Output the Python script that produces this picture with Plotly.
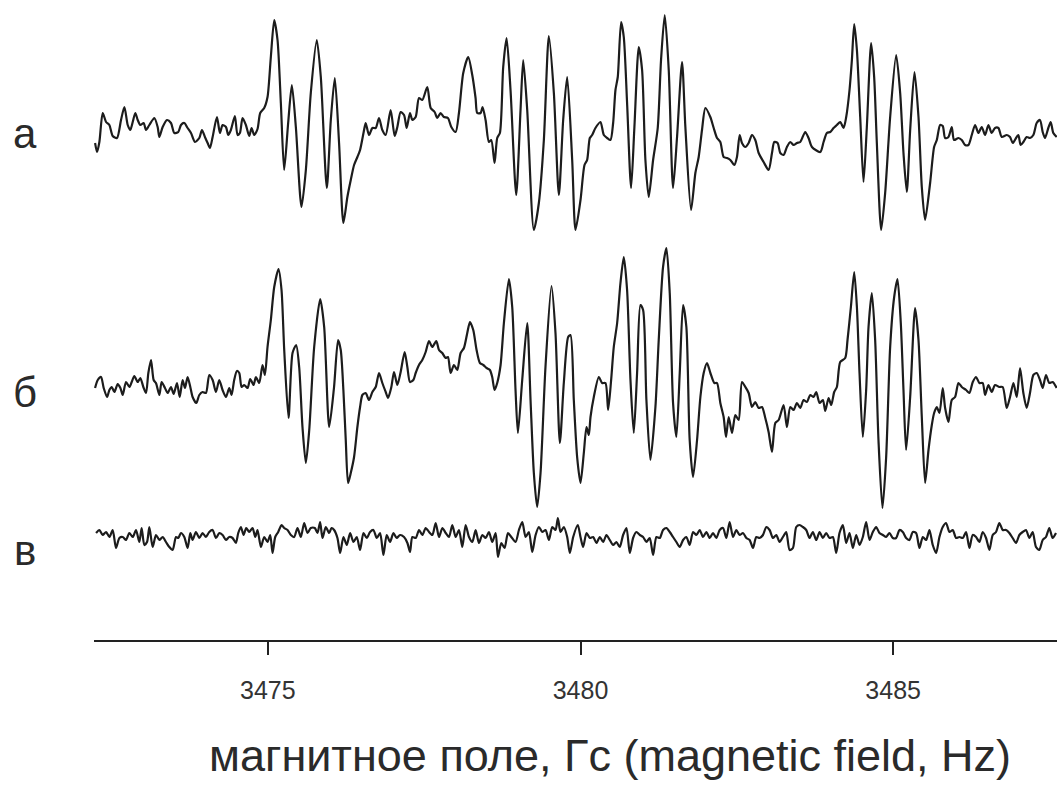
import plotly.graph_objects as go

# ---- data: EPR spectra (magnetic field in G, signal amplitude in arbitrary units) ----
a_field = [3472.237, 3472.269, 3472.306, 3472.359, 3472.413, 3472.466, 3472.519, 3472.588, 3472.652, 3472.706,
           3472.759, 3472.801, 3472.839, 3472.881, 3472.919, 3472.961, 3473.014, 3473.052, 3473.105, 3473.185,
           3473.238, 3473.265, 3473.318, 3473.387, 3473.451, 3473.504, 3473.568, 3473.611, 3473.664, 3473.717,
           3473.771, 3473.834, 3473.904, 3473.946, 3473.994, 3474.037, 3474.074, 3474.117, 3474.186, 3474.234,
           3474.276, 3474.330, 3474.367, 3474.409, 3474.473, 3474.516, 3474.553, 3474.596, 3474.649, 3474.702,
           3474.740, 3474.782, 3474.835, 3474.878, 3474.942, 3474.995, 3475.048, 3475.102, 3475.155, 3475.208,
           3475.261, 3475.325, 3475.384, 3475.448, 3475.538, 3475.608, 3475.687, 3475.783, 3475.847, 3475.943,
           3476.007, 3476.071,
           3476.139, 3476.208, 3476.272, 3476.326, 3476.379, 3476.432, 3476.475, 3476.539, 3476.565, 3476.618,
           3476.672, 3476.725, 3476.778, 3476.831, 3476.885, 3476.964, 3477.028, 3477.071, 3477.124, 3477.178,
           3477.220, 3477.273, 3477.311, 3477.364, 3477.417, 3477.470, 3477.550, 3477.604, 3477.667, 3477.710,
           3477.763, 3477.816, 3477.880, 3477.934, 3478.003, 3478.056, 3478.125, 3478.205, 3478.269, 3478.322,
           3478.349, 3478.402, 3478.434, 3478.482, 3478.535, 3478.573, 3478.626, 3478.668, 3478.711, 3478.764,
           3478.818, 3478.881, 3478.972, 3479.041, 3479.084, 3479.148, 3479.254, 3479.334, 3479.414, 3479.494,
           3479.574, 3479.654, 3479.723, 3479.787, 3479.867,
           3479.920, 3480.000, 3480.064, 3480.106, 3480.149, 3480.186, 3480.239, 3480.319, 3480.373, 3480.426,
           3480.479, 3480.522, 3480.559, 3480.596, 3480.649, 3480.692, 3480.745, 3480.809, 3480.862, 3480.932,
           3480.985, 3481.038, 3481.091, 3481.161, 3481.235, 3481.288, 3481.347, 3481.411, 3481.480, 3481.544,
           3481.624, 3481.677, 3481.768, 3481.837, 3481.890, 3481.943, 3481.997, 3482.076, 3482.130, 3482.183,
           3482.236, 3482.289, 3482.343, 3482.396, 3482.460, 3482.502, 3482.545, 3482.582, 3482.636, 3482.689,
           3482.742, 3482.795, 3482.849, 3482.928, 3483.008, 3483.062, 3483.099, 3483.152, 3483.195, 3483.248,
           3483.301, 3483.354, 3483.408, 3483.461, 3483.514, 3483.594, 3483.647, 3483.701,
           3483.834, 3483.887, 3483.940, 3483.994, 3484.047, 3484.100, 3484.153, 3484.207, 3484.249, 3484.302,
           3484.340, 3484.377, 3484.420, 3484.473, 3484.526, 3484.579, 3484.648, 3484.696, 3484.739, 3484.808,
           3484.872, 3484.952, 3485.048, 3485.112, 3485.165, 3485.218, 3485.272, 3485.341, 3485.405, 3485.458,
           3485.511, 3485.591, 3485.655, 3485.698, 3485.751, 3485.793, 3485.831, 3485.884, 3485.937, 3485.974,
           3486.044, 3486.097, 3486.150, 3486.203, 3486.257, 3486.310, 3486.363, 3486.416, 3486.470, 3486.523,
           3486.576, 3486.629, 3486.683, 3486.736, 3486.816, 3486.869, 3486.912, 3486.965, 3487.002, 3487.039,
           3487.082, 3487.135, 3487.188, 3487.242, 3487.295, 3487.348, 3487.391, 3487.428, 3487.481, 3487.519,
           3487.561, 3487.615]
a_amp = [-13, -22, -12, 17, 8, 5, -6, -8, 10, 23,
         5, 0, 8, 17, 10, 5, 7, 0, 5, 12,
         3, -7, 3, 10, 7, -3, -2, 5, 7, 2,
         -3, -12, -8, 0, -7, -13, -18, -7, 13, -3,
         5, 3, -5, 0, 14, -5, -3, 12, 5, -6,
         2, -5, 1, 17, 22, 33, 73, 110, 90, 27,
         -40, 7, 45, 3, -77, -40, 37, 90, 53, -58,
         10, 52,
         -13, -93, -67, -50, -35, -27, -20, 0, 7, -5,
         2, 2, 12, 0, -5, 20, -6, 3, 18, 15,
         2, 17, 10, 13, 32, 30, 43, 22, 18, 12,
         17, 13, 12, 3, -2, 17, 57, 73, 55, 32,
         17, 17, 23, 10, -12, -10, -33, -8, -3, 63,
         92, 40, -65, 20, 70, 20, -100, -73, -10, 94,
         37, -65, 10, 53, -30,
         -100, -70, -35, -30, -8, -5, 2, 8, -5, -8,
         -10, 7, 40, 53, 108, 93, 27, -58, 3, 83,
         60, -30, -67, -30, 2, 70, 115, 60, -58, -7,
         68, 3, -80, -43, -27, 0, 22, 13, 2, -8,
         -12, -27, -28, -30, -35, -27, -5, -13, -17, -13,
         -5, -10, -23, -32, -40, -23, -12, -13, -23, -25,
         -17, -12, -15, -13, -12, -2, -8, -17,
         -22, -12, -3, -2, 2, 5, 8, 2, 13, 40,
         70, 106, 80, 13, -52, 3, 87, 53, -13, -100,
         -63, 13, 75, 37, -23, -62, 0, 58, 13, -57,
         -90, -53, -17, -10, 5, 4, -8, -7, 3, -10,
         -8, -10, -15, -15, -5, 5, -3, 3, -5, 5,
         -3, 2, 2, -7, -5, -7, -13, -8, -5, -15,
         -12, -7, -8, -5, 7, 10, -2, -8, 2, 8,
         -3, -7]

b_field = [3472.237, 3472.280, 3472.333, 3472.375, 3472.429, 3472.466, 3472.503, 3472.546, 3472.599, 3472.642,
           3472.679, 3472.732, 3472.786, 3472.823, 3472.865, 3472.919, 3472.961, 3473.009, 3473.052, 3473.089,
           3473.132, 3473.174, 3473.211, 3473.265, 3473.302, 3473.355, 3473.398, 3473.451, 3473.494, 3473.547,
           3473.590, 3473.637, 3473.675, 3473.717, 3473.760, 3473.797, 3473.856, 3473.904, 3473.957, 3474.010,
           3474.063, 3474.117, 3474.170, 3474.223, 3474.276, 3474.330, 3474.383, 3474.420, 3474.462, 3474.505,
           3474.543, 3474.580, 3474.622, 3474.676, 3474.718, 3474.772, 3474.809, 3474.862, 3474.915, 3474.953,
           3474.995, 3475.048, 3475.102, 3475.171, 3475.219, 3475.262, 3475.331, 3475.395, 3475.453, 3475.501,
           3475.554, 3475.608, 3475.662, 3475.741, 3475.837, 3475.901, 3475.981,
           3476.059, 3476.123, 3476.166, 3476.208, 3476.246, 3476.283, 3476.326, 3476.379, 3476.432, 3476.475,
           3476.512, 3476.565, 3476.618, 3476.672, 3476.725, 3476.778, 3476.831, 3476.885, 3476.922, 3476.975,
           3477.018, 3477.071, 3477.124, 3477.188, 3477.231, 3477.273, 3477.327, 3477.364, 3477.417, 3477.470,
           3477.524, 3477.577, 3477.630, 3477.694, 3477.737, 3477.790, 3477.843, 3477.880, 3477.923, 3477.976,
           3478.029, 3478.083, 3478.136, 3478.189, 3478.232, 3478.285, 3478.338, 3478.391, 3478.445, 3478.498,
           3478.551, 3478.588, 3478.626, 3478.668, 3478.722, 3478.775, 3478.855, 3478.908, 3478.961, 3478.999,
           3479.068, 3479.148, 3479.201, 3479.254, 3479.307, 3479.361, 3479.440, 3479.536, 3479.600, 3479.670,
           3479.733, 3479.803, 3479.840,
           3479.893, 3479.946, 3480.000, 3480.053, 3480.096, 3480.133, 3480.160, 3480.213, 3480.293, 3480.346,
           3480.399, 3480.442, 3480.490, 3480.532, 3480.586, 3480.639, 3480.692, 3480.745, 3480.799, 3480.852,
           3480.905, 3480.958, 3481.001, 3481.054, 3481.118, 3481.198, 3481.251, 3481.320, 3481.374, 3481.427,
           3481.480, 3481.533, 3481.587, 3481.640, 3481.693, 3481.746, 3481.800, 3481.864, 3481.917, 3481.970,
           3482.023, 3482.077, 3482.140, 3482.183, 3482.236, 3482.289, 3482.327, 3482.370, 3482.423, 3482.476,
           3482.529, 3482.582, 3482.636, 3482.689, 3482.742, 3482.795, 3482.849, 3482.902, 3482.955, 3483.008,
           3483.062, 3483.115, 3483.168, 3483.248, 3483.301, 3483.355, 3483.408, 3483.461, 3483.514, 3483.567,
           3483.621,
           3483.674, 3483.727, 3483.770, 3483.823, 3483.876, 3483.914, 3483.967, 3484.010, 3484.057, 3484.100,
           3484.153, 3484.233, 3484.270, 3484.324, 3484.377, 3484.420, 3484.462, 3484.515, 3484.568, 3484.606,
           3484.659, 3484.712, 3484.765, 3484.829, 3484.888, 3484.952, 3485.016, 3485.069, 3485.122, 3485.165,
           3485.207, 3485.272, 3485.351, 3485.405, 3485.458, 3485.511, 3485.565, 3485.618, 3485.655, 3485.698,
           3485.740, 3485.793, 3485.831, 3485.884, 3485.937, 3485.990, 3486.044, 3486.097, 3486.166, 3486.219,
           3486.273, 3486.326, 3486.379, 3486.432, 3486.470, 3486.523, 3486.576, 3486.629, 3486.698, 3486.752,
           3486.816, 3486.869, 3486.923, 3486.976, 3487.029, 3487.082, 3487.135, 3487.188, 3487.242, 3487.295,
           3487.348, 3487.391, 3487.444, 3487.497, 3487.551, 3487.615]
b_amp = [-3, 5, 8, -3, -12, -5, -2, -7, 1, -3,
         -10, 3, -2, 3, 9, 3, 7, -2, -8, 12,
         25, 5, 2, -10, 3, -3, -8, -2, -9, 2,
         -12, 5, -3, 8, -2, -12, -18, -10, -7, -8,
         10, 5, -7, 5, -5, -12, -3, -10, 5, 14,
         12, -2, 0, -3, 6, 0, 8, 2, 20, 10,
         38, 65, 98, 116, 95, 35, -33, 32, 40, 18,
         -42, -78, -45, 38, 86, 58, -42,
         -2, 45, 35, -5, -55, -98, -88, -72, -42, -22,
         -10, -8, -15, -7, -2, 12, 2, -7, -13, -2,
         13, 0, 13, 33, 18, 3, 5, 12, 20, 25,
         33, 44, 38, 44, 35, 32, 27, 28, 12, 20,
         15, 32, 37, 52, 63, 55, 35, 22, 20, 17,
         15, 8, -5, 2, 20, 62, 106, 78, -5, -48,
         5, 62, -15, -88, -122, -88, 18, 99, 52, -58,
         2, 48, 50,
         -15, -72, -98, -68, -42, -50, -32, -12, 8, 2,
         2, -25, 5, 38, 62, 102, 128, 95, 5, -48,
         12, 80, 75, -15, -75, -22, 45, 118, 137, 92,
         -18, -52, 12, 80, 58, -55, -92, -55, -12, 12,
         22, 12, 2, 2, -18, -32, -52, -32, -48, -30,
         -35, 3, -2, -8, -22, -17, -23, -22, -33, -47,
         -67, -38, -35, -20, -42, -22, -25, -18, -23, -15,
         -17,
         -10, -12, -7, -18, -15, -26, -13, -20, -7, -2,
         23, 27, 45, 78, 113, 78, 12, -52, -5, 58,
         92, 45, -55, -123, -72, 38, 88, 106, 62, -5,
         -65, -12, 77, 45, -32, -98, -65, -40, -28, -22,
         -28, -3, -23, -37, -15, -12, 2, -2, -5, -8,
         3, 8, 2, 2, -10, 0, -7, 0, -2, -2,
         -23, -12, 2, -12, 17, -8, -23, -8, 10, 12,
         5, -3, 10, 2, 3, -3]

v_field = [3472.253, 3472.306, 3472.359, 3472.413, 3472.466, 3472.519, 3472.572, 3472.626, 3472.679, 3472.732,
           3472.785, 3472.839, 3472.892, 3472.945, 3472.982, 3473.025, 3473.068, 3473.105, 3473.158, 3473.211,
           3473.265, 3473.318, 3473.371, 3473.424, 3473.478, 3473.531, 3473.568, 3473.611, 3473.664, 3473.717,
           3473.760, 3473.797, 3473.850, 3473.904, 3473.957, 3474.010, 3474.063, 3474.117, 3474.170, 3474.223,
           3474.276, 3474.330, 3474.383, 3474.436, 3474.489, 3474.527, 3474.569, 3474.612, 3474.654, 3474.702,
           3474.756, 3474.798, 3474.835, 3474.889, 3474.942, 3474.995, 3475.038, 3475.075, 3475.118, 3475.166,
           3475.219, 3475.261, 3475.315, 3475.368, 3475.421, 3475.474, 3475.528, 3475.581, 3475.634, 3475.687,
           3475.751, 3475.794, 3475.836, 3475.874, 3475.927, 3475.980, 3476.018, 3476.060, 3476.113, 3476.156,
           3476.209, 3476.262, 3476.316, 3476.369, 3476.422, 3476.475, 3476.529, 3476.582, 3476.635, 3476.688,
           3476.742, 3476.795, 3476.848, 3476.901, 3476.955, 3477.008, 3477.061, 3477.114, 3477.178, 3477.232,
           3477.274, 3477.311, 3477.365, 3477.418, 3477.471, 3477.524, 3477.578, 3477.631, 3477.684, 3477.737,
           3477.791, 3477.844, 3477.897, 3477.950, 3478.004, 3478.057, 3478.110, 3478.163, 3478.217, 3478.270,
           3478.323, 3478.376, 3478.430, 3478.483, 3478.536, 3478.589, 3478.643, 3478.680, 3478.733, 3478.786,
           3478.840, 3478.893, 3478.962, 3479.015, 3479.069, 3479.122, 3479.175, 3479.228, 3479.282, 3479.335,
           3479.388, 3479.441, 3479.495, 3479.548, 3479.601, 3479.638, 3479.681, 3479.734, 3479.787, 3479.830,
           3479.883,
           3479.957, 3480.000, 3480.042, 3480.096, 3480.149, 3480.202, 3480.255, 3480.309, 3480.362, 3480.415,
           3480.468, 3480.522, 3480.575, 3480.628, 3480.681, 3480.735, 3480.788, 3480.841, 3480.894, 3480.948,
           3481.001, 3481.054, 3481.107, 3481.161, 3481.214, 3481.267, 3481.320, 3481.374, 3481.427, 3481.480,
           3481.533, 3481.587, 3481.640, 3481.693, 3481.746, 3481.800, 3481.853, 3481.906, 3481.959, 3482.013,
           3482.066, 3482.119, 3482.172, 3482.226, 3482.279, 3482.332, 3482.385, 3482.439, 3482.492, 3482.545,
           3482.598, 3482.652, 3482.705, 3482.758, 3482.811, 3482.864, 3482.918, 3482.971, 3483.024, 3483.077,
           3483.131, 3483.184, 3483.237, 3483.290, 3483.344, 3483.397, 3483.450, 3483.503, 3483.557, 3483.610,
           3483.663, 3483.716, 3483.770, 3483.823, 3483.876, 3483.929, 3483.983, 3484.036, 3484.089, 3484.142,
           3484.196, 3484.249, 3484.302, 3484.355, 3484.409, 3484.462, 3484.515, 3484.568, 3484.622, 3484.675,
           3484.728, 3484.781, 3484.835, 3484.888, 3484.941, 3484.994, 3485.048, 3485.101, 3485.154, 3485.207,
           3485.261, 3485.314, 3485.367, 3485.420, 3485.474, 3485.527, 3485.580, 3485.633, 3485.687, 3485.740,
           3485.793, 3485.846, 3485.900, 3485.953, 3486.006, 3486.059, 3486.113, 3486.166, 3486.219, 3486.272,
           3486.326, 3486.379, 3486.432, 3486.485, 3486.539, 3486.592, 3486.645, 3486.698, 3486.752, 3486.805,
           3486.858, 3486.911, 3486.965, 3487.018, 3487.071, 3487.124, 3487.178, 3487.231, 3487.284, 3487.337,
           3487.391, 3487.444, 3487.497, 3487.550, 3487.604]
v_amp = [4, 7, 2, 5, 0, 7, -11, -1, 0, -3,
         4, 0, 7, -5, 9, -8, -5, 10, -10, 2,
         -3, 0, -5, -10, -13, 0, -1, 4, 0, -11,
         4, -3, 5, -1, 4, 0, 5, 7, -1, 4,
         2, -3, 0, -1, -6, 4, 10, 2, 9, 5,
         9, 0, 7, -10, 0, -5, 2, -16, 0, 5,
         12, 9, 7, 2, 0, 9, 0, 14, 4, 9,
         9, 4, 15, -1, 10, 4, 9, 7, -1, -16,
         0, -8, 4, -5, 0, -13, 4, -1, 5, 7,
         -1, 4, -18, 2, -5, 4, -1, 2, 0, -6,
         -15, 0, -1, 7, 2, 9, 5, 2, 14, 0,
         9, 4, 0, 12, 0, 7, -10, 12, 0, -5,
         7, -6, 2, -1, 5, -5, 4, -20, -6, -11,
         4, 0, -5, 7, 15, 0, 5, -15, 2, 10,
         5, 7, -3, 10, 7, 19, 5, 10, 0, -16,
         0,
         12, 0, -10, 4, -1, 0, -6, 0, -5, 2,
         -3, -8, -5, -10, 2, 9, -16, -1, 5, 2,
         0, -5, -1, -18, 0, -1, 7, 9, 5, 0,
         -5, -10, -3, 0, -8, 5, 2, 7, 0, 5,
         -1, 4, -1, 7, 9, -1, 15, 0, 7, 2,
         4, -1, -3, -11, 0, -1, 2, 10, 7, -1,
         2, -5, 0, 5, -13, -11, 10, 12, 10, 7,
         -1, 5, -3, 5, -1, 4, -1, 0, -16, 4,
         12, -6, 4, -11, 2, -8, 0, 15, -3, 5,
         10, 4, 2, 0, 4, -1, -1, 7, 5, -1,
         -3, 5, 4, -11, 0, -3, 7, -8, -16, 0,
         10, 14, 5, 7, -1, 0, -1, 5, -11, 2,
         0, -5, 5, -1, -13, 2, 5, 14, 7, 7,
         4, -1, -6, 2, 5, 7, -1, 5, -10, -13,
         -3, 0, 9, -1, 4]

labels = ["а", "б", "в"]
tick_vals = [3475, 3480, 3485]
x_title = "магнитное поле, Гс (magnetic field, Hz)"

assert len(a_field) == len(a_amp)
assert len(b_field) == len(b_amp)
assert len(v_field) == len(v_amp)

# ---- styling / placement ----
offsets = [-130, -385, -537]          # vertical stacking of spectra
label_y = [-133, -392, -550]
LINE = "#1c1c1c"
FONT = "Liberation Sans, Arial, Helvetica, sans-serif"

fig = go.Figure()
for fld, amp, off in [(a_field, a_amp, offsets[0]), (b_field, b_amp, offsets[1]), (v_field, v_amp, offsets[2])]:
    fig.add_trace(go.Scatter(x=fld, y=[off + v for v in amp], mode="lines",
                             line=dict(color=LINE, width=2.2, shape="spline", smoothing=0.7),
                             hoverinfo="skip", showlegend=False))

for lab, ly in zip(labels, label_y):
    fig.add_annotation(text=lab, xref="paper", yref="y", x=-0.0717, y=ly, showarrow=False,
                       xanchor="center", yanchor="middle",
                       font=dict(family=FONT, size=42, color="#2a2a2a"))

fig.add_annotation(text=x_title, xref="paper", yref="paper", x=0.536, y=-0.18, showarrow=False,
                   xanchor="center", yanchor="middle",
                   font=dict(family=FONT, size=45, color="#2a2a2a"))

fig.update_layout(
    width=1057, height=785,
    margin=dict(l=94, r=0, t=0, b=145),
    paper_bgcolor="white", plot_bgcolor="white",
    hovermode=False,
    xaxis=dict(range=[3472.22, 3487.62], tickvals=tick_vals, ticktext=[str(t) for t in tick_vals],
               showline=True, linecolor="#222", linewidth=2, ticks="outside", ticklen=13,
               tickwidth=1.5, tickcolor="#222", showgrid=False, zeroline=False,
               ticklabelstandoff=14,
               tickfont=dict(family=FONT, size=25, color="#333")),
    yaxis=dict(range=[-640, 0], visible=False, showgrid=False, zeroline=False),
)

fig.write_html("out.html", config={"displayModeBar": False},
               post_script="document.body.style.margin='0px';document.body.style.overflow='hidden';")
